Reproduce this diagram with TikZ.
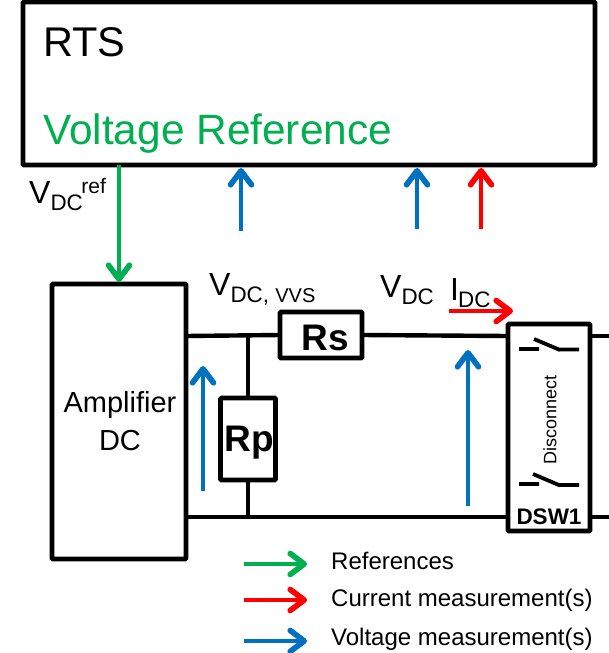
\documentclass[tikz,border=0pt]{standalone}
\usepackage{fontspec}
\setmainfont{Liberation Sans}
\usetikzlibrary{arrows.meta}
\tikzset{x=1pt,y=-1pt,
box/.style={draw,line width=4.6pt,fill=white,inner sep=0pt,outer sep=0pt,rounded corners=1pt},
wire/.style={line width=4.4pt},
arr/.style={line width=4.4pt,-{Straight Barb[length=14pt,width=21pt,line width=5.6pt,round]}},
lbl/.style={inner sep=0pt,anchor=base west,text=black},
sw/.style={line width=3.8pt},
tag/.style={inner sep=0pt,outer sep=0pt,font=\bfseries\fontsize{37}{37}\selectfont},
}
\definecolor{cg}{HTML}{00B050}\definecolor{cb}{HTML}{0070C0}\definecolor{cr}{HTML}{FF0000}
\begin{document}
\begin{tikzpicture}
\useasboundingbox (0,0) rectangle (609,653);
\node[box,minimum width=572pt,minimum height=163pt,anchor=north west] (rts) at (23,2) {};
\node[lbl,font=\fontsize{41.5}{42}\selectfont] (t1) at (43,56) {RTS};
\node[lbl,font=\fontsize{42.4}{42}\selectfont,text=cg] (t2) at (43,144) {Voltage Reference};
\node[box,minimum width=134pt,minimum height=275pt,anchor=north west] (amp) at (52,284) {};
\node[font=\fontsize{29}{38}\selectfont,align=center] (ampt) at (120,421) {Amplifier\\DC};
\coordinate (a1) at (186,336); \coordinate (a2) at (186,517);
\coordinate (j1) at (248,336); \coordinate (j2) at (248,517);
\coordinate (d1) at (508,336); \coordinate (d2) at (508,517);
\coordinate (e1) at (609,336); \coordinate (e2) at (609,517);
\node[box,minimum width=82pt,minimum height=46pt] (rs) at (321,335) {};
\node[tag] (rst) at (325,338) {Rs};
\node[box,minimum width=55pt,minimum height=82pt] (rp) at (248,439) {};
\node[tag] (rpt) at (249,443) {Rp};
\draw[wire] (a1) -- (rs.west) (rs.east) -- (d1);
\draw[wire] (a2) -- (d2);
\draw[wire] (j1) -- (rp.north) (rp.south) -- (j2);
\draw[wire] (d1) -- (e1) (d2) -- (e2);
\node[box,minimum width=82pt,minimum height=207pt,anchor=north west] (dsw) at (508,324) {};
\draw[sw] (519,349) -- (539,349) (534,339)--(560,350) (558,349.5)--(579,349.5);
\draw[sw] (519,484) -- (539,484) (533,474)--(560,485.5) (558,485)--(579,485);
\node[rotate=90,font=\fontsize{18}{18}\selectfont] (disc) at (550,420) {Disconnect};
\node[font=\bfseries\fontsize{22.5}{22}\selectfont] (dt) at (549,517) {DSW1};
\coordinate (g1) at (119,165); \coordinate (g2) at (119,282);
\draw[arr,cg] (g1) -- (g2);
\coordinate (b1) at (241,231); \coordinate (b2) at (241,168);
\coordinate (b3) at (417,229); \coordinate (b4) at (417,168);
\coordinate (r1) at (481,229); \coordinate (r2) at (481,168);
\draw[arr,cb] (b1)--(b2); \draw[arr,cb] (b3)--(b4); \draw[arr,cr] (r1)--(r2);
\coordinate (b5) at (203,491); \coordinate (b6) at (203,366);
\coordinate (b7) at (468,506); \coordinate (b8) at (468,350);
\coordinate (r3) at (449,311); \coordinate (r4) at (513,311);
\draw[arr,cb] (b5)--(b6); \draw[arr,cb] (b7)--(b8); \draw[arr,cr] (r3)--(r4);
\node[lbl,font=\fontsize{32}{32}\selectfont] (v1) at (29,203) {V\textsubscript{DC}\textsuperscript{\kern-2pt\fontsize{21}{21}\selectfont ref}};
\node[lbl,font=\fontsize{32}{32}\selectfont] (v2) at (209,295) {V\textsubscript{DC, \fontsize{20}{20}\selectfont VVS}};
\node[lbl,font=\fontsize{32}{32}\selectfont] (v3) at (380,297) {V\textsubscript{DC}};
\node[lbl,font=\fontsize{32}{32}\selectfont] (v4) at (450,300) {I\textsubscript{\kern-1pt DC}};
\coordinate (l1) at (244,564); \coordinate (l2) at (307,564);
\coordinate (l3) at (244,600); \coordinate (l4) at (307,600);
\coordinate (l5) at (244,641); \coordinate (l6) at (307,641);
\draw[arr,cg] (l1)--(l2); \draw[arr,cr] (l3)--(l4); \draw[arr,cb] (l5)--(l6);
\node[lbl,font=\fontsize{24}{24}\selectfont] (k1) at (331,569) {References};
\node[lbl,font=\fontsize{24}{24}\selectfont] (k2) at (331,606) {Current measurement(s)};
\node[lbl,font=\fontsize{24}{24}\selectfont] (k3) at (331,645) {Voltage measurement(s)};
\end{tikzpicture}
\end{document}
